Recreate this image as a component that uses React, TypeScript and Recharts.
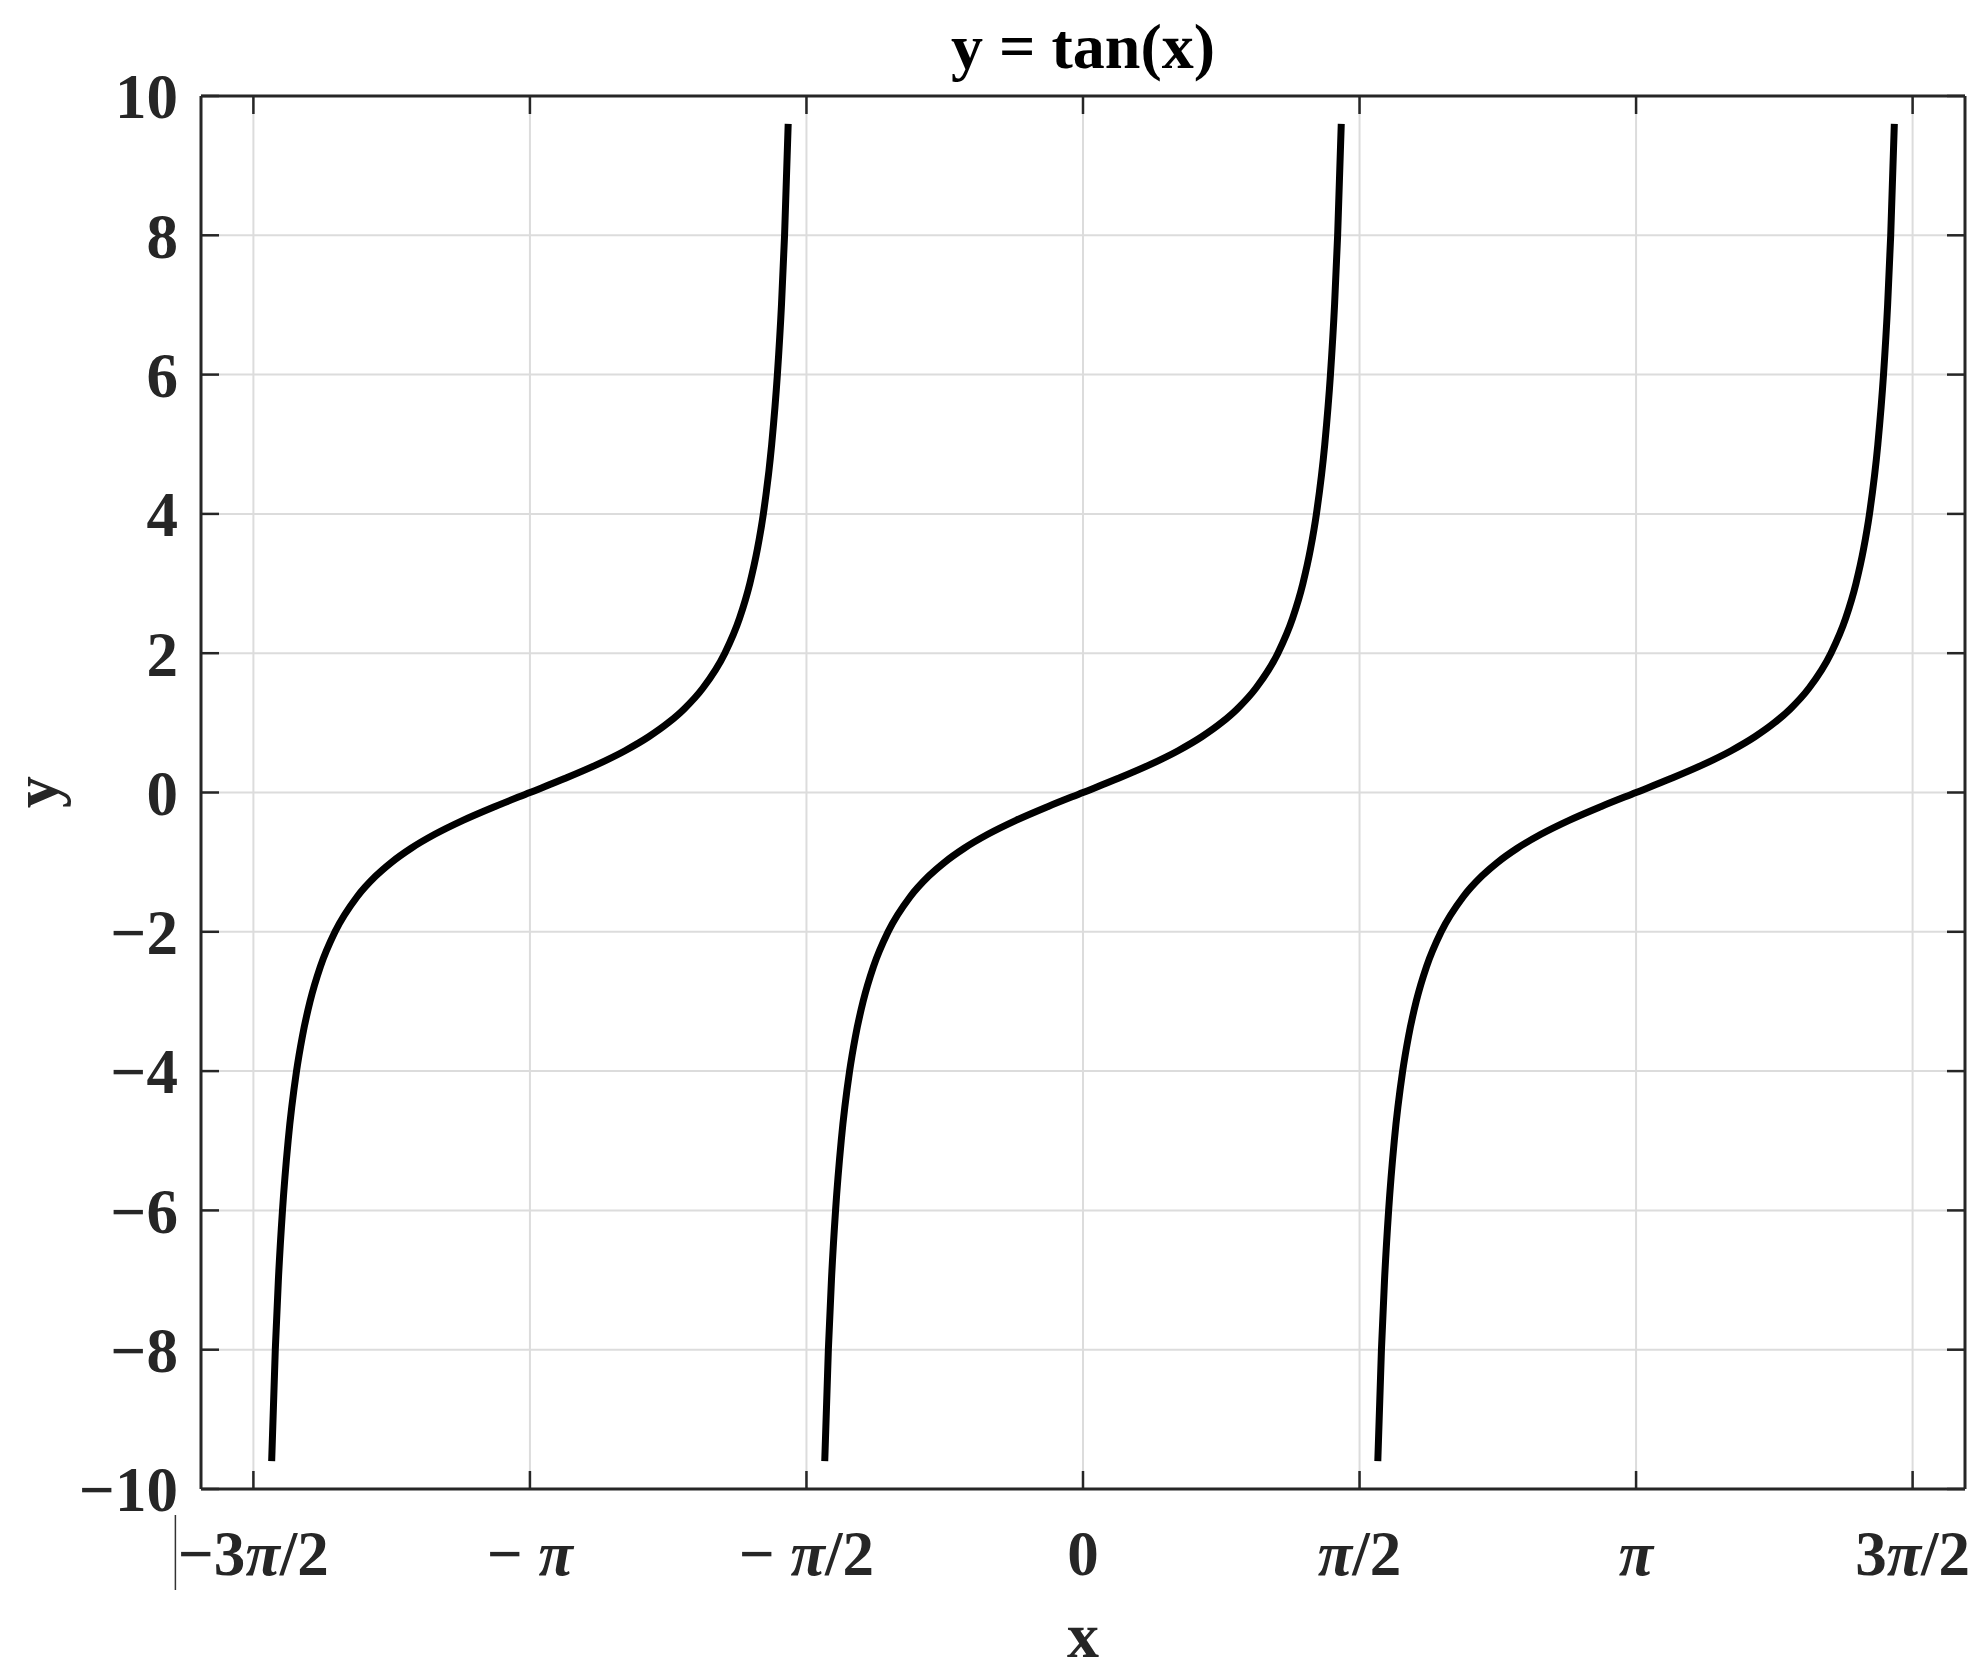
import { LineChart, Line, XAxis, YAxis, CartesianGrid } from "recharts";

const X_TICKS = [-4.7124, -3.1416, -1.5708, 0, 1.5708, 3.1416, 4.7124];
const X_TICK_LABELS = ["−3π/2", "− π", "− π/2", "0", "π/2", "π", "3π/2"];
const Y_TICKS = [-10, -8, -6, -4, -2, 0, 2, 4, 6, 8, 10];
const Y_TICK_LABELS = ["−10", "−8", "−6", "−4", "−2", "0", "2", "4", "6", "8", "10"];

// y values read along each branch (same for all three)
const BRANCH_Y = [
  -9.6, -8, -7, -6, -5, -4, -3.5, -3, -2.5, -2, -1.5, -1.2, -1, -0.8, -0.6, -0.4, -0.2, 0,
  0.2, 0.4, 0.6, 0.8, 1, 1.2, 1.5, 2, 2.5, 3, 3.5, 4, 5, 6, 7, 8, 9.6,
];
const BRANCH1_X = [
  -4.6086, -4.588, -4.5705, -4.5472, -4.515, -4.4674, -4.4341, -4.3906, -4.3319, -4.2487, -4.1244,
  -4.0177, -3.927, -3.8163, -3.682, -3.5221, -3.339, -3.1416, -2.9442, -2.7611, -2.6012, -2.4669,
  -2.3562, -2.2655, -2.1588, -2.0345, -1.9513, -1.8926, -1.8491, -1.8158, -1.7682, -1.736, -1.7127,
  -1.6952, -1.6746,
];
const BRANCH2_X = [
  -1.467, -1.4464, -1.4289, -1.4056, -1.3734, -1.3258, -1.2925, -1.249, -1.1903, -1.1071, -0.9828,
  -0.8761, -0.7854, -0.6747, -0.5404, -0.3805, -0.1974, 0, 0.1974, 0.3805, 0.5404, 0.6747, 0.7854,
  0.8761, 0.9828, 1.1071, 1.1903, 1.249, 1.2925, 1.3258, 1.3734, 1.4056, 1.4289, 1.4464, 1.467,
];
const BRANCH3_X = [
  1.6746, 1.6952, 1.7127, 1.736, 1.7682, 1.8158, 1.8491, 1.8926, 1.9513, 2.0345, 2.1588, 2.2655,
  2.3562, 2.4669, 2.6012, 2.7611, 2.9442, 3.1416, 3.339, 3.5221, 3.682, 3.8163, 3.927, 4.0177,
  4.1244, 4.2487, 4.3319, 4.3906, 4.4341, 4.4674, 4.515, 4.5472, 4.5705, 4.588, 4.6086,
];

const X_DOMAIN: [number, number] = [-5.01, 5.01];
const Y_DOMAIN: [number, number] = [-10, 10];

const FONT = "'Liberation Serif', 'Times New Roman', serif";
const INK = "#262626";
const PLOT_TOP = 96;
const TICK_LEN = 18;

const zip = (xs: number[]) => xs.map((x, i) => ({ x, y: BRANCH_Y[i] }));
const branches = [zip(BRANCH1_X), zip(BRANCH2_X), zip(BRANCH3_X)];

// x tick: label below the box plus inward tick marks on bottom and top edges
function XTick(props: any) {
  const { x, y, payload } = props;
  const idx = X_TICKS.indexOf(payload.value);
  const label = idx >= 0 ? X_TICK_LABELS[idx] : String(payload.value);
  const parts = label.split("π");
  return (
    <g>
      <line x1={x} x2={x} y1={y} y2={y - TICK_LEN} stroke={INK} strokeWidth={2.5} />
      <line x1={x} x2={x} y1={PLOT_TOP} y2={PLOT_TOP + TICK_LEN} stroke={INK} strokeWidth={2.5} />
      {idx === 0 && <line x1={x - 78} x2={x - 78} y1={y + 26} y2={y + 101} stroke="#333" strokeWidth={1.5} />}
      <text
        x={x}
        y={y + 86}
        textAnchor="middle"
        fontFamily={FONT}
        fontWeight="bold"
        fontSize={63}
        fill={INK}
      >
        {parts.map((p, i) => (
          <tspan key={i}>
            {p}
            {i < parts.length - 1 && <tspan fontStyle="italic">π</tspan>}
          </tspan>
        ))}
      </text>
    </g>
  );
}

// mirror axes only draw the frame / marks, no labels
const NoLabel = () => <g />;

const frame = { stroke: INK, strokeWidth: 3 };
const tickMark = { stroke: INK, strokeWidth: 2.5 };

export default function App() {
  return (
    <div style={{ position: "absolute", left: 0, top: 0, width: 1988, height: 1675, background: "#fff" }}>
      <LineChart width={1988} height={1675} margin={{ top: PLOT_TOP, right: 23, left: 0, bottom: 0 }}>
        <CartesianGrid stroke="#dcdcdc" strokeWidth={2} />
        <XAxis
          xAxisId={0}
          dataKey="x"
          type="number"
          domain={X_DOMAIN}
          ticks={X_TICKS}
          allowDataOverflow
          height={186}
          tickLine={false}
          axisLine={false}
          tickSize={0}
          tickMargin={0}
          tick={<XTick />}
          interval={0}
          label={{ value: "x", position: "insideBottom", offset: 18, fontSize: 64, fontWeight: "bold", fontFamily: FONT, fill: INK }}
        />
        <YAxis
          yAxisId={0}
          type="number"
          domain={Y_DOMAIN}
          ticks={Y_TICKS}
          allowDataOverflow
          width={201}
          tickLine={false}
          axisLine={false}
          tickSize={0}
          tickMargin={23}
          interval={0}
          tickFormatter={(v: number) => Y_TICK_LABELS[Y_TICKS.indexOf(v)] ?? String(v)}
          tick={{ fontSize: 63, fontWeight: "bold", fontFamily: FONT, fill: INK }}
        />
        <XAxis xAxisId="bm" type="number" domain={X_DOMAIN} allowDataOverflow orientation="bottom" mirror height={1} tick={false} tickLine={false} axisLine={frame} />
        <XAxis xAxisId="tm" type="number" domain={X_DOMAIN} allowDataOverflow orientation="top" mirror height={1} tick={false} tickLine={false} axisLine={frame} />
        <YAxis yAxisId="lm" type="number" domain={Y_DOMAIN} ticks={Y_TICKS} allowDataOverflow orientation="left" mirror width={1} tick={NoLabel} tickSize={TICK_LEN} tickLine={tickMark} axisLine={frame} interval={0} />
        <YAxis yAxisId="rm" type="number" domain={Y_DOMAIN} ticks={Y_TICKS} allowDataOverflow orientation="right" mirror width={1} tick={NoLabel} tickSize={TICK_LEN} tickLine={tickMark} axisLine={frame} interval={0} />
        {branches.map((d, i) => (
          <Line
            key={i}
            data={d}
            dataKey="y"
            type="monotone"
            stroke="#000"
            strokeWidth={7}
            dot={false}
            activeDot={false}
            isAnimationActive={false}
          />
        ))}
      </LineChart>
      <svg width={1988} height={1675} style={{ position: "absolute", left: 0, top: 0, pointerEvents: "none" }}>
        <text x={1083} y={68} textAnchor="middle" fontFamily={FONT} fontWeight="bold" fontSize={64} fill="#000">
          y = tan(x)
        </text>
        <text x={57} y={792} transform="rotate(-90, 57, 792)" textAnchor="middle" fontFamily={FONT} fontWeight="bold" fontSize={64} fill={INK}>
          y
        </text>
      </svg>
    </div>
  );
}
